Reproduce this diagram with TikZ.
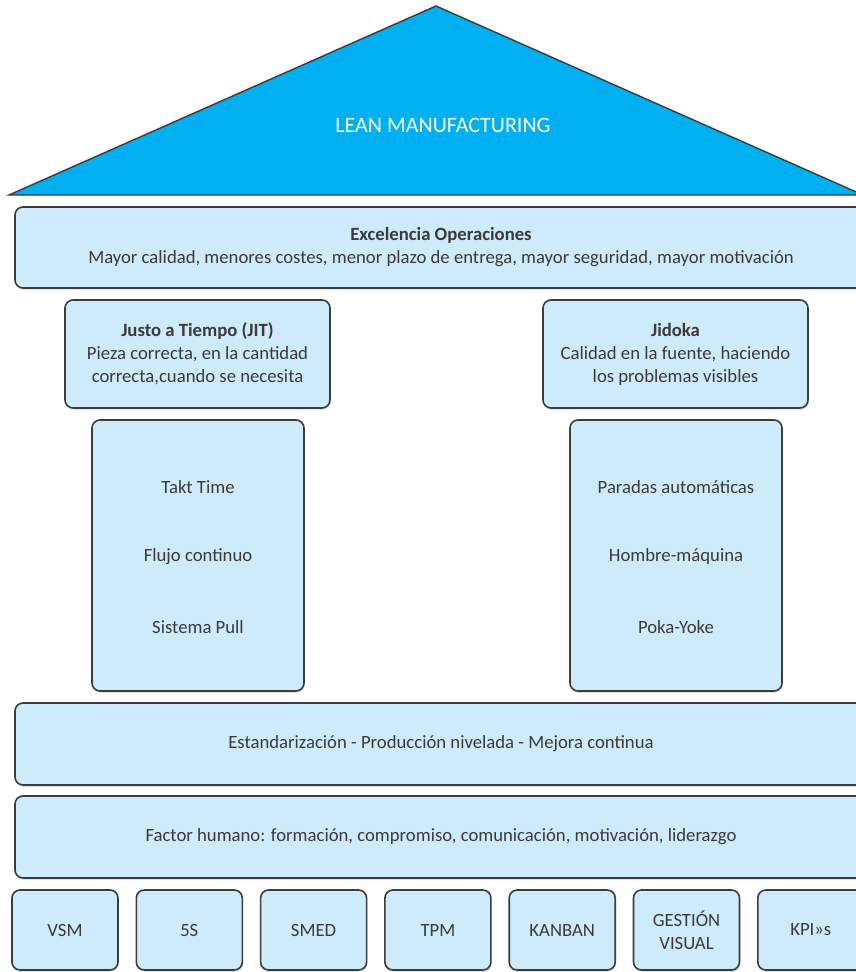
\documentclass[tikz,border=0pt]{standalone}
\usepackage{fontspec}
\setmainfont{Carlito}
\usetikzlibrary{shadows}
\definecolor{roofblue}{HTML}{00B0F0}
\definecolor{boxfill}{HTML}{CDEBFA}
\definecolor{edgegray}{HTML}{3C3C3C}
\definecolor{txtgray}{HTML}{3A3A3A}
\tikzset{
  box/.style={draw=edgegray, line width=1.6pt, fill=boxfill, rounded corners=8pt,
    drop shadow={opacity=0.22, shadow xshift=0.8pt, shadow yshift=-2pt},
    inner sep=0pt, outer sep=0pt},
  lbl/.style={text=txtgray, align=center, font=\fontsize{18.7}{23}\selectfont, inner sep=0pt},
}
\begin{document}
\begin{tikzpicture}[x=1pt, y=-1pt]
\useasboundingbox (0,0) rectangle (856,972);
\clip (0,0) rectangle (856,972);
\fill[white] (0,0) rectangle (856,972);

% roof
\coordinate (apex) at (436,6);
\coordinate (roofL) at (9,195);
\coordinate (roofR) at (863,195);
\draw[draw=edgegray, line width=1.4pt, fill=roofblue, line join=miter] (roofL) -- (apex) -- (roofR) -- cycle;
\node[lbl, text=white, font=\fontsize{22}{26}\selectfont] (lean) at (443,125) {LEAN MANUFACTURING};

% top beam
\node[box, minimum width=858pt, minimum height=81pt] (exc) at (444,247.5) {};
\node[lbl] (exct) at (441,247.5) {\textbf{Excelencia Operaciones}\\Mayor calidad, menores costes, menor plazo de entrega, mayor seguridad, mayor motivación};

% pillar heads
\node[box, minimum width=265pt, minimum height=108pt] (jit) at (197.5,354) {};
\node[lbl] (jitt) at (197.5,354) {\textbf{Justo a Tiempo (JIT)}\\Pieza correcta, en la cantidad\\correcta,cuando se necesita};
\node[box, minimum width=265pt, minimum height=108pt] (jid) at (675.5,354) {};
\node[lbl] (jidt) at (675.5,354) {\textbf{Jidoka}\\Calidad en la fuente, haciendo\\los problemas visibles};

% pillar bodies
\node[box, minimum width=212pt, minimum height=271pt] (jitcol) at (198,555.5) {};
\node[lbl] (takt) at (198,487) {Takt Time};
\node[lbl] (flujo) at (198,557) {Flujo continuo};
\node[lbl] (pull) at (198,627) {Sistema Pull};
\node[box, minimum width=212pt, minimum height=271pt] (jidcol) at (676,555.5) {};
\node[lbl] (paradas) at (676,487) {Paradas automáticas};
\node[lbl] (hombre) at (676,557) {Hombre-máquina};
\node[lbl] (poka) at (676,627) {Poka-Yoke};

% foundation beams
\node[box, minimum width=858pt, minimum height=82pt] (est) at (444,744) {};
\node[lbl] (estt) at (441,744) {Estandarización - Producción nivelada - Mejora continua};
\node[box, minimum width=858pt, minimum height=82pt] (fac) at (444,837) {};
\node[lbl] (fact) at (441,837) {Factor humano: formación, compromiso, comunicación, motivación, liderazgo};

% tools row
\foreach \name/\txt [count=\i from 0] in {vsm/VSM, fives/5S, smed/SMED, tpm/TPM, kanban/KANBAN, gv/{GESTIÓN\\VISUAL}, kpi/KPI»s} {
  \node[box, minimum width=106pt, minimum height=80pt] (\name) at (65+124.3*\i,930) {};
  \node[lbl] (\name t) at (65+124.3*\i,930) {\txt};
}
\end{tikzpicture}
\end{document}
